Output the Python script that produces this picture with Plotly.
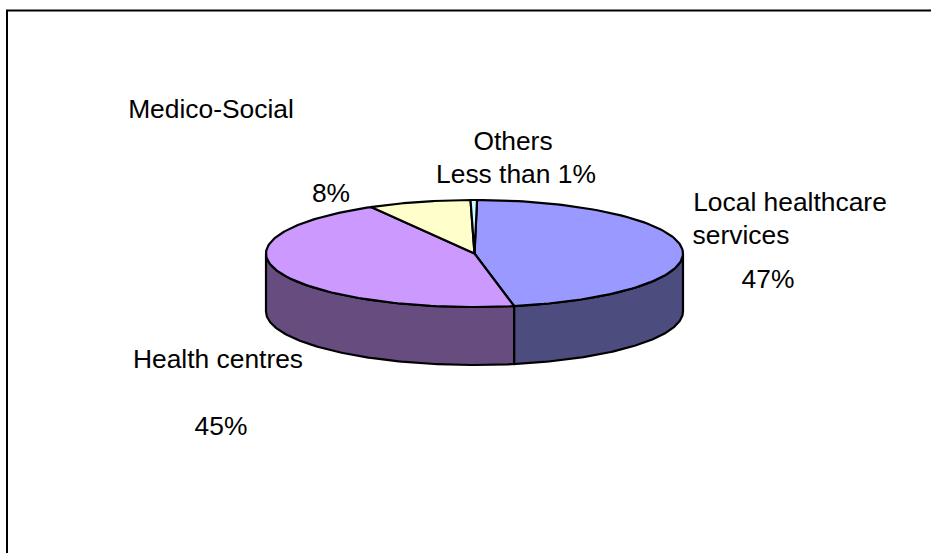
import numpy as np
import plotly.graph_objects as go

# Shares of the pie, clockwise from twelve o'clock
categories = ["Local healthcare services", "Health centres", "Medico-Social", "Others"]
values = [47, 45, 8, 0.5]
top_colors = ["#9999FF", "#CC99FF", "#FFFFCC", "#CCFFFF"]
side_colors = ["#4C4C7F", "#664C7F", "#7F7F66", "#667F7F"]

# Free-standing labels: text, centre x, centre y
label_texts = ["Medico-Social", "Others", "Less than 1%", "8%", "Local healthcare", "services",
               "47%", "Health centres", "45%"]
label_x = [211, 513, 516, 331, 790, 741, 768, 218, 221]
label_y = [111, 143, 176, 195, 204, 237, 281, 361, 428]

# Projection of the tilted disc on the page
CX, CY, RX, RY, DEPTH = 474.5, 253.5, 208.5, 53.5, 58
START_DEG = 0.7
INK = "#000000"
OUTLINE = 2.2


def rim(a0, a1, n=120):
    t = np.radians(np.linspace(a0, a1, n))
    return CX + RX * np.sin(t), CY - RY * np.cos(t)


fig = go.Figure()

angles = START_DEG + np.concatenate([[0], np.cumsum(values)]) / sum(values) * 360

# Side walls: only the part of each slice on the front half of the rim is visible
for a0, a1, col in zip(angles[:-1], angles[1:], side_colors):
    lo, hi = max(a0, 90), min(a1, 270)
    if lo >= hi:
        continue
    x, y = rim(lo, hi)
    fig.add_trace(go.Scatter(
        x=np.concatenate([x, x[::-1], x[:1]]),
        y=np.concatenate([y, y[::-1] + DEPTH, y[:1]]),
        mode="lines", fill="toself", fillcolor=col,
        line=dict(color=INK, width=OUTLINE), hoverinfo="skip"))

# Top faces of the slices
for a0, a1, col in zip(angles[:-1], angles[1:], top_colors):
    x, y = rim(a0, a1)
    fig.add_trace(go.Scatter(
        x=np.concatenate([[CX], x, [CX]]),
        y=np.concatenate([[CY], y, [CY]]),
        mode="lines", fill="toself", fillcolor=col,
        line=dict(color=INK, width=OUTLINE), hoverinfo="skip"))

fig.add_trace(go.Scatter(
    x=label_x, y=label_y, text=label_texts, mode="text",
    textposition="middle center", hoverinfo="skip",
    textfont=dict(family="Liberation Sans, Arial, sans-serif", size=26.4, color="#000000")))

fig.update_layout(
    width=931, height=553, margin=dict(l=0, r=0, t=0, b=0),
    paper_bgcolor="white", plot_bgcolor="white", showlegend=False,
    xaxis=dict(range=[0, 931], visible=False, fixedrange=True),
    yaxis=dict(range=[553, 0], visible=False, fixedrange=True),
    # The frame runs off the right and bottom edges of the page
    shapes=[dict(type="rect", xref="x", yref="y", x0=7, y0=10.5, x1=960, y1=600,
                 line=dict(color=INK, width=2), layer="below")],
)

fig.write_html("out.html", config=dict(displayModeBar=False))
